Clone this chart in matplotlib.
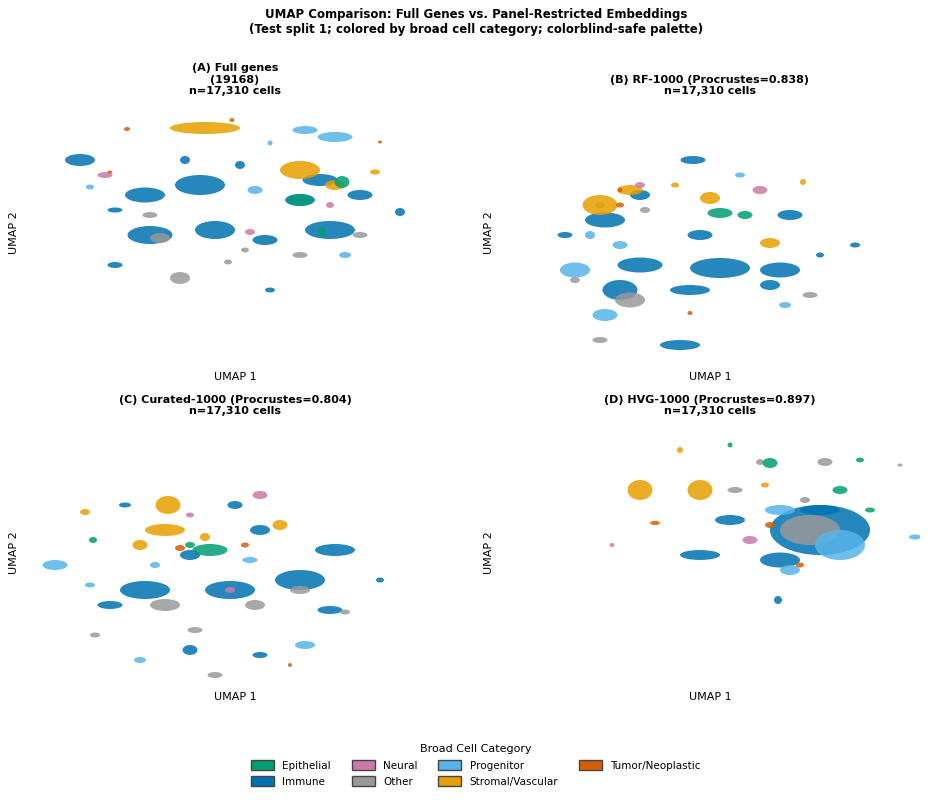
import matplotlib
matplotlib.use("Agg")
import matplotlib.pyplot as plt
from matplotlib.patches import Ellipse, Patch

categories = ["Epithelial", "Immune", "Neural", "Other", "Progenitor", "Stromal/Vascular", "Tumor/Neoplastic"]
colors = ["#009E73", "#0072B2", "#CC79A7", "#999999", "#56B4E9", "#E69F00", "#D55E00"]

titles = ["(A) Full genes\n(19168)\nn=17,310 cells",
          "(B) RF-1000 (Procrustes=0.838)\nn=17,310 cells",
          "(C) Curated-1000 (Procrustes=0.804)\nn=17,310 cells",
          "(D) HVG-1000 (Procrustes=0.897)\nn=17,310 cells"]

# cluster blobs: (x, y, width, height) in image pixels
panel_a = {
    "Immune": [(80,160,30,12),(145,195,40,15),(150,235,45,18),(200,185,50,20),(215,230,40,18),(320,180,35,12),
               (330,230,50,18),(300,200,30,12),(360,195,25,10),(115,265,15,6),(265,240,25,10),(115,210,15,5),
               (400,212,10,8),(240,165,10,8),(185,160,10,8),(270,290,10,5)],
    "Other": [(180,278,20,12),(160,238,20,10),(150,215,15,6),(300,255,15,6),(360,235,15,6),(228,262,8,5),(245,250,8,5)],
    "Stromal/Vascular": [(205,128,70,12),(300,170,40,18),(335,185,20,10),(375,172,10,5)],
    "Progenitor": [(305,130,25,8),(335,137,35,10),(255,190,15,8),(90,187,8,5),(345,255,12,6),(270,143,5,5)],
    "Epithelial": [(300,200,25,12),(342,182,15,12),(322,232,8,10)],
    "Neural": [(105,175,15,6),(250,232,10,6),(330,205,8,6)],
    "Tumor/Neoplastic": [(127,129,6,4),(110,172,5,3),(232,120,5,4),(380,142,4,3)],
}
panel_b = {
    "Immune": [(693,160,25,8),(605,220,40,15),(640,265,45,15),(720,268,60,20),(780,270,40,15),(620,290,35,20),
               (690,290,40,10),(680,345,40,10),(790,215,25,10),(640,195,20,10),(700,235,25,10),(770,285,20,10),
               (565,235,15,6),(855,245,10,5),(820,255,8,5)],
    "Other": [(630,300,30,15),(600,340,15,6),(810,295,15,6),(575,280,10,6),(645,210,10,6),(600,205,10,6)],
    "Progenitor": [(575,270,30,15),(605,315,25,12),(620,245,15,8),(785,305,12,6),(590,235,10,8),(740,175,10,5)],
    "Stromal/Vascular": [(600,205,35,20),(630,190,25,10),(710,198,20,12),(770,243,20,10),(803,182,6,6),(675,185,8,5)],
    "Epithelial": [(720,213,25,10),(745,215,15,8)],
    "Neural": [(760,190,15,8),(640,185,10,6)],
    "Tumor/Neoplastic": [(620,205,8,5),(690,313,5,4),(620,190,5,5)],
}
panel_c = {
    "Immune": [(145,590,50,18),(230,590,50,18),(300,580,50,20),(335,550,40,12),(190,555,20,10),(110,605,25,8),
               (260,530,20,10),(190,650,15,10),(125,505,12,5),(330,610,25,8),(380,580,8,5),(260,655,15,6),(235,505,15,8)],
    "Other": [(165,605,30,12),(215,675,15,6),(255,605,20,10),(300,590,20,8),(95,635,10,5),(345,612,10,5),(195,630,15,6)],
    "Stromal/Vascular": [(168,505,25,18),(165,530,40,12),(140,545,15,10),(280,525,15,10),(205,537,10,8),(85,512,10,6)],
    "Progenitor": [(55,565,25,10),(90,585,10,5),(250,560,15,6),(305,645,20,8),(155,565,10,6),(140,660,12,6)],
    "Epithelial": [(210,550,35,12),(93,540,8,6),(190,545,10,6)],
    "Neural": [(260,495,15,8),(230,590,10,6),(190,515,8,5)],
    "Tumor/Neoplastic": [(180,548,10,6),(290,665,4,4),(245,545,8,5)],
}
panel_d = {
    "Immune": [(820,530,100,50),(730,520,30,10),(780,560,40,15),(700,555,40,10),(778,600,8,8),(820,510,40,10)],
    "Other": [(810,530,60,30),(825,462,15,8),(805,500,10,6),(735,490,15,6),(760,462,8,6),(900,465,5,3)],
    "Progenitor": [(840,545,50,30),(780,510,30,10),(915,537,12,5),(790,570,20,10)],
    "Stromal/Vascular": [(640,490,25,20),(700,490,25,20),(680,450,6,6),(765,485,8,5)],
    "Epithelial": [(770,463,15,10),(860,460,8,5),(730,445,5,5),(870,510,10,5),(840,490,15,8)],
    "Neural": [(612,545,5,4),(750,540,15,8)],
    "Tumor/Neoplastic": [(655,523,10,4),(770,525,10,6),(800,565,8,5)],
}
panels = [panel_a, panel_b, panel_c, panel_d]

fig = plt.figure(figsize=(9.52, 8), dpi=100)
W, H = 952, 800
boxes = [(25, 100, 445, 366), (500, 100, 920, 366), (25, 420, 445, 686), (500, 420, 920, 686)]
color_of = dict(zip(categories, colors))

for box, blobs, title in zip(boxes, panels, titles):
    x0, y0, x1, y1 = box
    ax = fig.add_axes([x0 / W, 1 - y1 / H, (x1 - x0) / W, (y1 - y0) / H])
    for cat, items in blobs.items():
        for (x, y, w, h) in items:
            ax.add_patch(Ellipse((x, y), w, h, facecolor=color_of[cat], edgecolor="none", alpha=0.85))
    ax.set_xlim(x0, x1)
    ax.set_ylim(y1, y0)
    ax.set_xticks([])
    ax.set_yticks([])
    for s in ax.spines.values():
        s.set_visible(False)
    ax.set_xlabel("UMAP 1", fontsize=8)
    ax.set_ylabel("UMAP 2", fontsize=8)
    ax.set_title(title, fontsize=8, fontweight="bold", pad=4)

fig.suptitle("UMAP Comparison: Full Genes vs. Panel-Restricted Embeddings\n"
             "(Test split 1; colored by broad cell category; colorblind-safe palette)",
             fontsize=8.5, fontweight="bold", y=0.99)

handles = [Patch(facecolor=c, edgecolor="#444444", label=l) for l, c in zip(categories, colors)]
fig.legend(handles=handles, loc="lower center", ncol=4, frameon=False, fontsize=7.5,
           title="Broad Cell Category", title_fontsize=8, bbox_to_anchor=(0.5, 0.005),
           handlelength=2.2, handleheight=1.2, columnspacing=2)

fig.savefig("out.png", dpi=100)
